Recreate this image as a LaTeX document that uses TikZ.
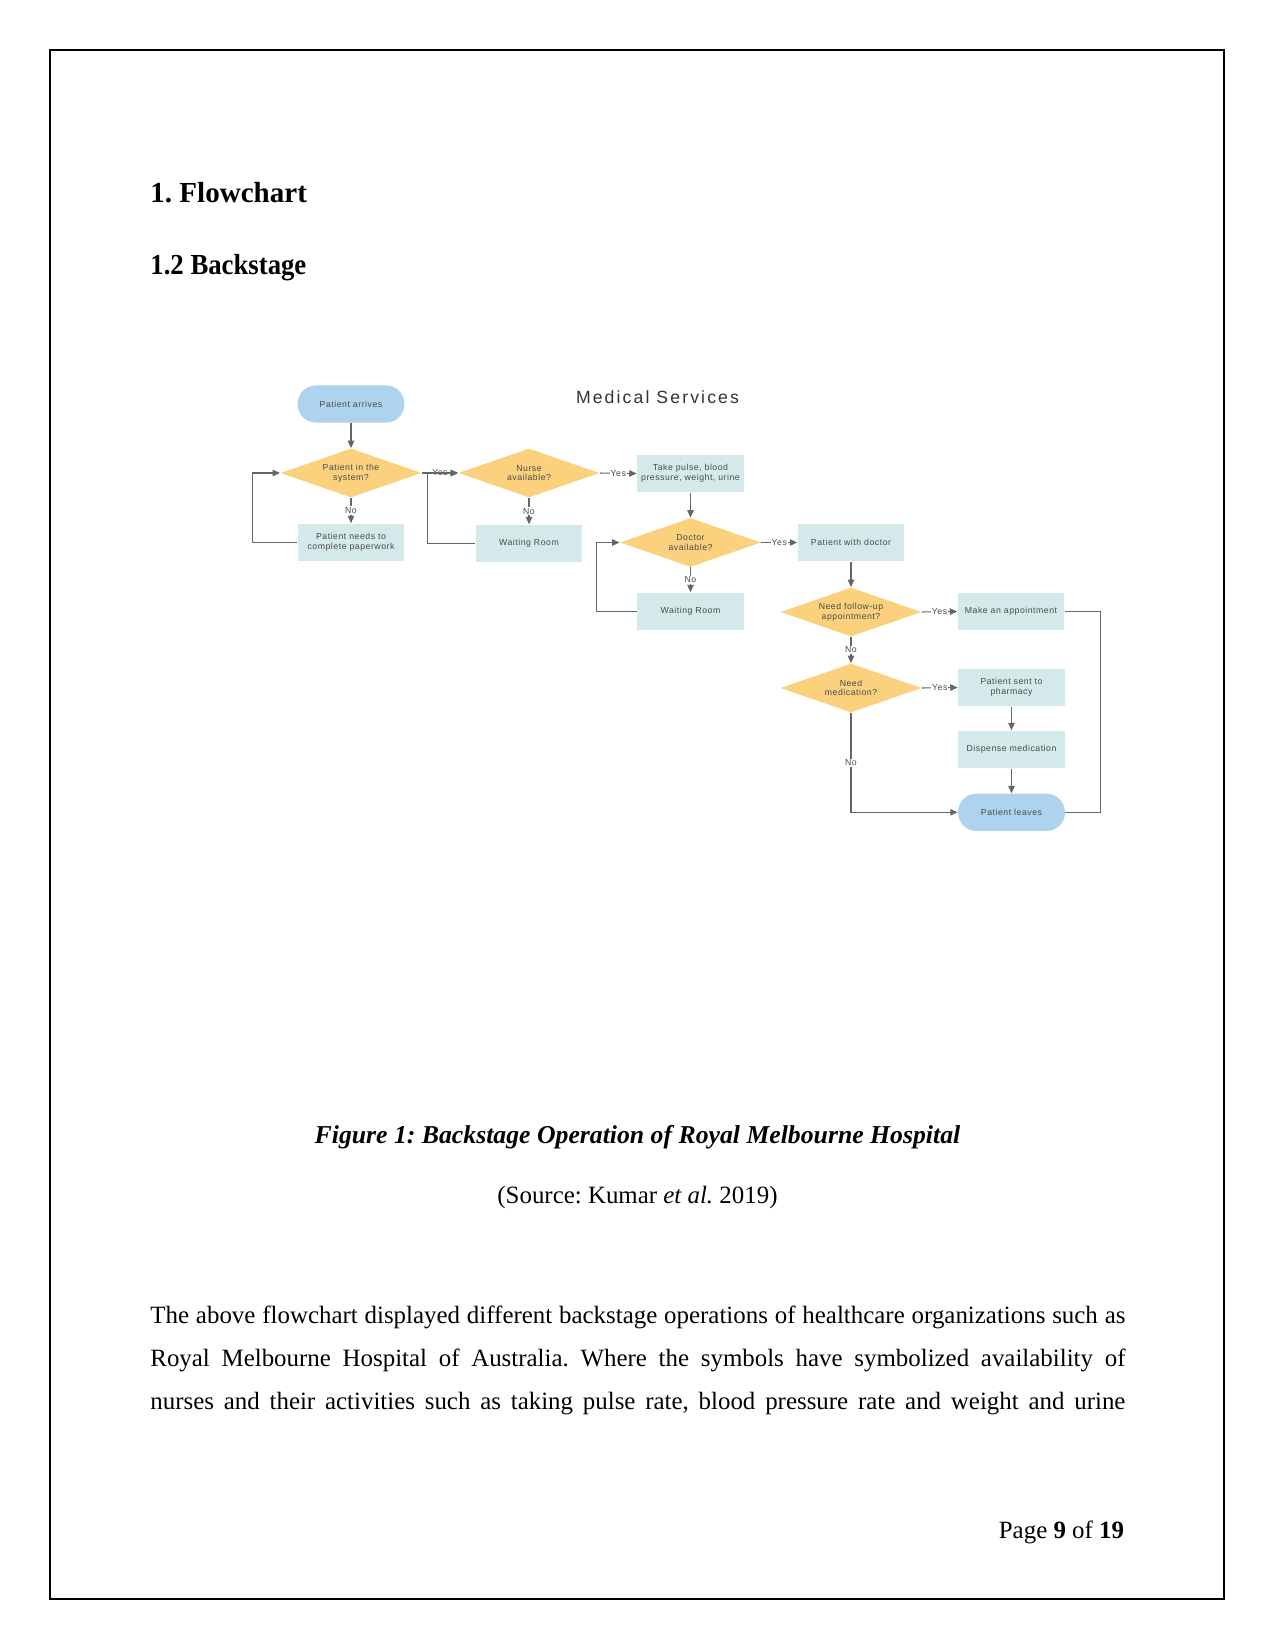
\documentclass[tikz,border=0pt]{standalone}
\usepackage{fontspec}
\setmainfont{Liberation Serif}
\newfontfamily\chartfont[LetterSpace=6]{Liberation Sans}
\newfontfamily\titlefont[LetterSpace=12]{Liberation Sans}
\usetikzlibrary{shapes.geometric,arrows.meta}
\definecolor{termblue}{HTML}{AED3EE}
\definecolor{procteal}{HTML}{D3E9EA}
\definecolor{decyellow}{HTML}{FBD17E}
\definecolor{linegray}{HTML}{666666}
\definecolor{textgray}{HTML}{4A4A4A}
\definecolor{titlegray}{HTML}{333333}
\tikzset{
  chart/.style={font=\chartfont\fontsize{4.2}{4.6}\selectfont, text=textgray, align=center, inner sep=1pt},
  terminal/.style={chart, fill=termblue, rounded corners=3.1mm, minimum width=18.1mm, minimum height=6.3mm},
  process/.style={chart, fill=procteal, minimum width=18.1mm, minimum height=6.4mm},
  decision/.style={chart, diamond, aspect=2.9, fill=decyellow, minimum width=23.9mm, minimum height=8.3mm, inner sep=0pt},
  flow/.style={draw=linegray, line width=0.5pt, -{Triangle[length=1.25mm,width=1.1mm]}},
  link/.style={draw=linegray, line width=0.5pt},
  answer/.style={chart, fill=white, inner sep=0.5pt}
}
\frenchspacing
\begin{document}
\begin{tikzpicture}[x=0.16933mm,y=-0.16933mm]
  \useasboundingbox (0,0) rectangle (1275,1651);
  \draw[line width=0.9pt] (50,50) rectangle (1224,1599);
  % page headings
  \node[anchor=base west,inner sep=0] (sec) at (150,202) {\fontsize{14}{16}\selectfont\bfseries 1. Flowchart};
  \node[anchor=base west,inner sep=0] (subsec) at (150,274) {\scalebox{0.92}[1]{\fontsize{14}{16}\selectfont\bfseries 1.2 Backstage}};
  % flowchart
  \node[font=\titlefont\fontsize{8.5}{10}\selectfont,text=titlegray] (title) at (657.5,397.5) {Medical Services};
  \node[terminal] (arrive) at (351,404) {Patient arrives};
  \node[decision] (insys) at (351,473) {Patient in the\\system?};
  \node[process] (paper) at (351,542.5) {Patient needs to\\complete paperwork};
  \node[decision] (nurse) at (529,473) {Nurse\\available?};
  \node[process] (wait1) at (529,543.5) {Waiting Room};
  \node[process] (pulse) at (690.5,473.5) {Take pulse, blood\\pressure, weight, urine};
  \node[decision] (doctor) at (690.5,542.5) {Doctor\\available?};
  \node[process] (wait2) at (690.5,611.5) {Waiting Room};
  \node[process] (withdoc) at (851,542.5) {Patient with doctor};
  \node[decision] (follow) at (851,612) {Need follow-up\\appointment?};
  \node[process] (appoint) at (1011,611.5) {Make an appointment};
  \node[decision] (medic) at (851,688) {Need\\medication?};
  \node[process] (pharm) at (1011.5,687.5) {Patient sent to\\pharmacy};
  \node[process] (dispense) at (1011.5,749.5) {Dispense medication};
  \node[terminal] (leaves) at (1011.5,812.3) {Patient leaves};
  % connectors
  \draw[flow] (arrive.south) -- (insys.north);
  \draw[flow] (insys.south) -- node[answer] {No} (paper.north);
  \draw[flow] (paper.west) -- ++(-45,0) |- (insys.west);
  \draw[flow] (insys.east) -- node[answer] {Yes} (nurse.west);
  \draw[flow] (nurse.south) -- node[answer] {No} (wait1.north);
  \draw[flow] (wait1.west) -- ++(-48,0) |- (nurse.west);
  \draw[flow] (nurse.east) -- node[answer] {Yes} (pulse.west);
  \draw[flow] (pulse.south) -- (doctor.north);
  \draw[flow] (doctor.south) -- node[answer] {No} (wait2.north);
  \draw[flow] (wait2.west) -- ++(-40,0) |- (doctor.west);
  \draw[flow] (doctor.east) -- node[answer] {Yes} (withdoc.west);
  \draw[flow] (withdoc.south) -- (follow.north);
  \draw[flow] (follow.east) -- node[answer] {Yes} (appoint.west);
  \draw[link] (appoint.east) -- ++(36,0) |- (leaves.east);
  \draw[flow] (follow.south) -- node[answer] {No} (medic.north);
  \draw[flow] (medic.east) -- node[answer] {Yes} (pharm.west);
  \draw[flow] (pharm.south) -- (dispense.north);
  \draw[flow] (dispense.south) -- (leaves.north);
  \draw[flow] (medic.south) |- node[answer,pos=0.25] {No} (leaves.west);
  % caption and text
  \node[anchor=base] (caption) at (637.5,1143) {\fontsize{12.4}{14}\selectfont\bfseries\itshape Figure 1: Backstage Operation of Royal Melbourne Hospital};
  \node[anchor=base] (source) at (637.5,1203) {\fontsize{12}{14}\selectfont (Source: Kumar \textit{et al.} 2019)};
  \node[anchor=base west,inner sep=0] (para) at (150,1323) {\parbox[t]{6.5in}{\fontsize{12}{20.9}\selectfont\parfillskip=0pt
    The above flowchart displayed different backstage operations of healthcare organizations such as\linebreak
    Royal Melbourne Hospital of Australia. Where the symbols have symbolized availability of\linebreak
    nurses and their activities such as taking pulse rate, blood pressure rate and weight and urine\par}};
  \node[anchor=base east,inner sep=0] (pagenum) at (1124.5,1538) {\fontsize{12}{14}\selectfont Page \textbf{9} of \textbf{19}};
\end{tikzpicture}
\end{document}
